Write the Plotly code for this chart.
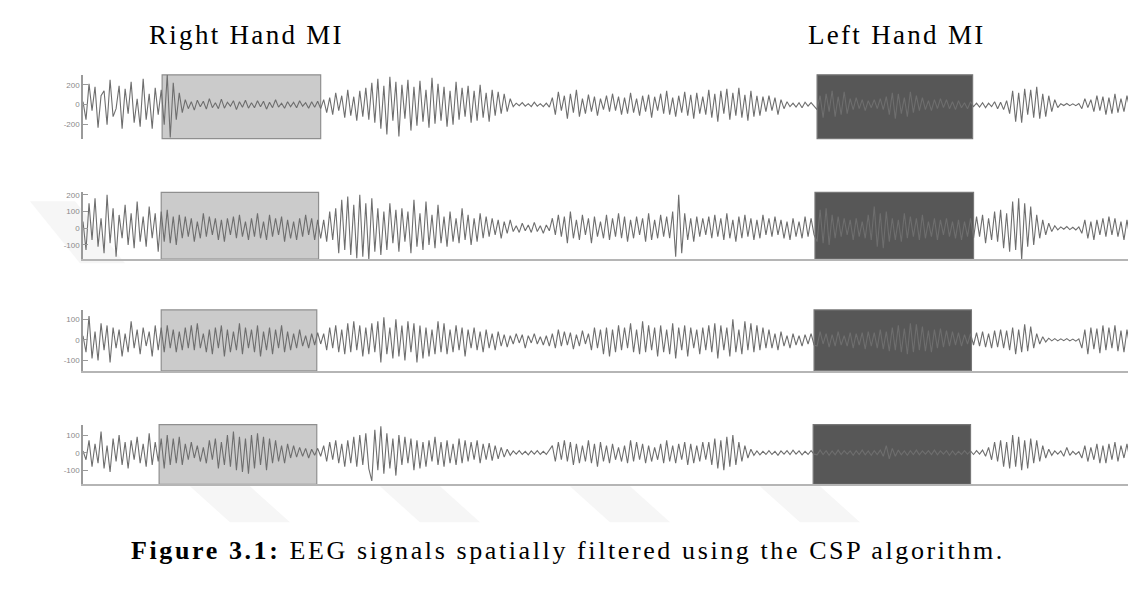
import plotly.graph_objects as go

# ---------------- data ----------------
panel1 = [30, -150, 210, -60, 180, -230, 90, 140, -200, 250, -120, -40, 190, -240, 160, -90, 230, -180, 60, -220, 260, -150, 110, -240, 170, -100, 150,
          -200, 300, -330, 220, -150, 120, -80,
          50, -40, 30, -55, 45, -20, 35, -45, 60, -30, 20, -40, 55, -35, 25, -15, 40, -50, 30, -25, 45, -35, 20, -30, 40, -20, 35, -45, 25, -30, 50, -25, 15, -35, 30, -20, 25, -30, 40, -15, 20, -35, 30, -25, 35, -40,
          50, -80, 70, -100, 120, -60, 90, -130, 150, -110, 80, -160, 140, -120, 170, -150,
          220, -180, 260, -240, 190, -300, 280, -160, 230, -320, 200, -140, 250, -260, 180, -210, 240, -170, 150, -230, 270, -190, 210, -160, 180, -220, 140, -200, 230, -150, 170, -120, 190, -180, 140, -160, 200, -130, 120, -170, 150, -110, 130, -90, 110, -70, 60,
          -20, 15, -10, 20, -15, 10, -20, 25, -15, 10, -20, 15, -25,
          70, -100, 130, -60, 90, -140, 110, -80, 150, -120, 60, -90, 100, -70, 80, -110, 60, -50, 90, -70, 110, -60, 80, -100, 70, -90, 120, -80, 60, -110, 90, -70, 100, -130, 80, -60, 110, -90, 140, -100, 70, -120, 90, -80, 130, -110, 100, -140, 120, -90, 80, -100,
          150, -130, 110, -170, 140, -90, 160, -150, 120, -110, 170, -130, 100, -160, 140, -120, 90, -110, 80, -70,
          90, -60, 70, -100, 50, -40, 30, -20, 15, -25, 20, -30, 25, -15, 20, -10,
          -50, 90, -130, 110, -70, 140, -120, 80, -100, 130, -90, 60, -50, 70, -40, 50, -60, 40, -30, 50, -40, 60, -50, 80, -100, 120, -140, 110, -90, 70, -120, 130, -80, 90, -60, 70, -50, 40, -60, 50, -40, 60, -30, 50, -40, 30, -50, 40, -30, 20, -40, 30,
          -20, 15, -25, 20, -30, 15, -20, 30, -40, 25, -50, 40,
          -90, 140, -170, 120, -180, 160, -100, 150, -130, 180, -140, 110, -120, 90, -70, 50, -30,
          10, -8, 12, -10, 8, -10, 12,
          -40, 60, -30, 50, -70, 90, -60, 80, -100, 70, -90, 110, -80, 60, -70, 90, -50, 70, -40]

panel2 = [40, -130, 150, -70, 180, -110, 60, -150, 200, -90, 120, -170, 80, -60, 140, -100, 90, -120, 160, -80, 70, -110, 130, -60, 90, -140, 100,
          -80, 110, -90, 70, -100, 80, -60,
          70, -50, 60, -80, 40, -60, 90, -50, 70, -40, 60, -70, 50, -80, 60, -40, 70, -60, 80, -50, 40, -70, 60, -50, 90, -60, 40, -70, 80, -50, 60, -40, 70, -80, 50, -60, 40, -70, 60, -50, 80, -40, 60, -70, 50, -60,
          50, -80, 100, -70, 120, -150, 170, -130, 190, -160, 140, -180, 200, -170, 150, -190,
          180, -140, 120, -160, 100, -130, 150, -90, 110, -140, 120, -80, 100, -150, 170, -110, 90, -130, 160, -100, 80, -120, 140, -90, 70, -110, 100, -80, 60, -90, 120, -70, 80, -100, 60, -80, 90, -60, 70, -50, 60, -40, 50, -60, 40, -30, 50,
          -20, 15, -25, 30, -15, 20, -25, 35, -20, 15, -30, 20, -15,
          60, -40, 80, -50, 70, -90, 100, -60, 50, -70, 80, -40, 60, -90, 70, -50, 40, -60, 80, -70, 60, -50, 90, -60, 70, -80, 50, -60, 70, -40, 60, -80, 90, -70, 50, -60, 80, -50, 70, -60, 100, -170, 200, -150, 90, -70, 60, -80, 70, -50, 60, -40,
          70, -60, 80, -50, 60, -70, 90, -60, 50, -80, 70, -60, 80, -50, 60, -70, 50, -60, 80, -40,
          60, -50, 70, -40, 50, -60, 40, -70, 60, -50, 40, -60, 70, -50, 60, -40,
          -80, 110, -90, 120, -100, 80, -60, 70, -50, 60, -40, 50, -70, 60, -50, 40, -60, 80, -70, 130, -110, 90, -120, 100, -80, 60, -70, 50, -80, 90, -60, 70, -50, 60, -70, 80, -60, 40, -50, 60, -70, 50, -40, 60, -50, 40, -60, 50, -70, 40, -50, 60,
          -60, 70, -50, 80, -90, 60, -70, 100, -80, 110, -120, 90,
          -140, 160, -130, 180, -190, 150, -110, 130, -100, 80, -60, 50, -40, 30, -20, 15, -10,
          8, -6, 10, -8, 6, -10, 8,
          -30, 50, -60, 40, -70, 50, -40, 60, -50, 70, -40, 60, -50, 40, -70, 50, -60, 40, -50]

panel3 = [20, -60, 115, -90, 40, -100, 80, -50, 70, -110, 60, -40, 50, -80, 30, -60, 90, -40, 50, -70, 60, -30, 40, -80, 70, -50, 60,
          -60, 70, -40, 50, -60, 40, -50,
          60, -40, 70, -50, 80, -40, 30, -60, 50, -70, 60, -40, 70, -80, 50, -60, 40, -50, 80, -70, 60, -40, 50, -60, 70, -80, 40, -50, 60, -70, 50, -40, 70, -60, 40, -50, 30, -40, 50, -30, 20, -40, 30, -25, 35, -20,
          30, -50, 60, -40, 70, -60, 50, -70, 80, -60, 90, -50, 70, -80, 60, -70,
          80, -60, 90, -110, 110, -70, 60, -90, 100, -80, 70, -100, 90, -60, 80, -110, 70, -90, 60, -80, 50, -70, 90, -60, 80, -70, 50, -60, 70, -50, 60, -80, 50, -40, 60, -50, 40, -60, 50, -40, 30, -50, 40, -30, 25, -35, 20,
          -20, 30, -15, 25, -40, 20, -15, 30, -20, 15, -25, 20, -30,
          30, -40, 50, -30, 40, -25, 35, -45, 25, -30, 45, -20, 30, -50, 60, -40, 50, -70, 60, -80, 50, -60, 70, -50, 60, -40, 80, -60, 50, -70, 90, -60, 70, -50, 60, -80, 70, -60, 50, -70, 80, -90, 60, -50, 70, -80, 60, -40, 50, -70, 60, -50,
          70, -60, 80, -90, 70, -50, 60, -80, 100, -60, 50, -70, 90, -50, 80, -60, 70, -50, 60, -40,
          50, -40, 30, -50, 40, -30, 20, -40, 30, -25, 20, -30, 25, -20, 30, -25,
          -30, 40, -20, 30, -35, 25, -30, 40, -25, 20, -30, 35, -40, 30, -25, 35, -45, 40, -30, 35, -40, 50, -45, 40, -55, 60, -50, 70, -60, 55, -70, 80, -60, 75, -50, 65, -55, 45, -60, 50, -40, 55, -35, 45, -30, 40, -25, 35, -30, 25, -20, 30,
          -25, 35, -30, 40, -35, 30, -40, 45, -35, 50, -40, 45,
          -50, 60, -70, 50, -60, 75, -55, 65, -40, 30, -20, 15, -10, 8, -5, 6, -5,
          5, -4, 6, -5, 4, -6, 5,
          -40, 50, -70, 60, -45, 55, -65, 70, -50, 60, -40, 70, -55, 45, -60, 50, -40, 55, -35]

panel4 = [10, -40, 70, -80, 50, -60, 120, -90, 40, -110, 80, -50, 100, -70, 60, -90, 70, -40, 90, -60, 50, -80, 110, -70, 60, -50, 80,
          -90, 100, -70, 80, -60, 90, -70,
          50, -40, 60, -30, 40, -50, 30, -60, 70, -40, 80, -90, 60, -70, 100, -80, 120, -100, 90, -110, 80, -120, 100, -90, 110, -70, 90, -100, 80, -60, 70, -50, 40, -60, 50, -30, 40, -25, 30, -20, 25, -30, 20, -15, 25, -20,
          40, -50, 60, -40, 70, -60, 50, -80, 70, -60, 90, -80, 100, -70, 110, -90,
          -160, 130, -100, 150, -120, 110, -90, 80, -130, 100, -70, 90, -60, 80, -100, 70, -90, 60, -80, 70, -50, 90, -70, 60, -80, 70, -60, 50, -70, 80, -60, 70, -50, 60, -40, 70, -60, 50, -40, 55, -45, 40, -35, 30, -25, 20, -15,
          10, -8, 12, -10, 8, -12, 10, -8, 12, -10, 8, -10, 12,
          40, -50, 60, -40, 70, -50, 60, -70, 50, -60, 40, -50, 70, -60, 50, -80, 60, -50, 40, -60, 50, -40, 30, -50, 40, -60, 70, -50, 60, -40, 50, -60, 40, -50, 30, -40, 50, -60, 70, -50, 40, -60, 50, -40, 60, -70, 50, -60, 40, -50, 60, -40,
          60, -70, 80, -90, 70, -100, 90, -80, 100, -70, 60, -50, 40, -30, 20, -15, 10, -12, 8, -10,
          12, -10, 8, -15, 10, -8, 12, -10, 15, -8, 10, -12, 8, -10, 12, -8,
          -12, 15, -10, 12, -15, 10, -12, 15, -10, 12, -8, 10, -15, 12, -10, 15, -12, 10, -15, 12, -10, 15, -20, 40, -35, 25, -20, 15, -12, 10, -15, 12, -10, 15, -12, 10, -8, 12, -10, 15, -12, 10, -8, 12, -15, 10, -12, 8, -10, 12, -8, 10,
          -10, 12, -8, 15, -20, 30, -40, 60, -50, 70, -80, 60,
          -90, 100, -80, 90, -100, 70, -90, 80, -60, 70, -50, 40, -30, 20, -15, 10, -8,
          10, -20, 30, -15, 8, -10, 6,
          -30, 40, -50, 30, -40, 50, -60, 40, -60, 50, -40, 60, -50, 40, -30, 50, -40, 30, -35]

signals = [panel1, panel2, panel3, panel4]

# y tick values / labels per panel
tick_vals = [[200, 0, -200], [200, 100, 0, -100], [100, 0, -100], [100, 0, -100]]
tick_text = [["200", "0", "-200"], ["200", "100", "0", "-100"], ["100", "0", "-100"], ["100", "0", "-100"]]
y_ranges = [[-340, 300], [-185, 215], [-150, 145], [-180, 160]]

# MI windows (in samples)
right_mi = [[26.3, 79.0], [26.0, 78.3], [26.0, 77.7], [25.3, 77.7]]
left_mi = [[244.0, 295.7], [243.3, 296.0], [243.0, 295.3], [242.7, 295.0]]

titles = ["Right Hand MI", "Left Hand MI"]
caption_bold = "Figure 3.1:"
caption_text = " EEG signals spatially filtered using the CSP algorithm."

# ---------------- layout ----------------
OFF = 8                      # page body margin
W, H = 1136 - OFF, 595 - OFF
N_SPAN = 350


def px(x):
    return (x - OFF) / W


def py(y):
    return 1 - (y - OFF) / H


px_dom = [(73, 137), (191, 258), (309, 370), (424, 484)]

fig = go.Figure()
layout = dict(
    width=W, height=H,
    margin=dict(l=0, r=0, t=0, b=0),
    paper_bgcolor="white", plot_bgcolor="rgba(0,0,0,0)",
    showlegend=False,
)
shapes = []

# faint watermark stripes
wm = [
    [(30, 200), (75, 200), (125, 262), (80, 262)],
    [(190, 486), (250, 486), (290, 522), (230, 522)],
    [(380, 486), (440, 486), (480, 522), (420, 522)],
    [(570, 486), (630, 486), (670, 522), (610, 522)],
    [(760, 486), (820, 486), (860, 522), (800, 522)],
]
for poly in wm:
    path = "M " + " L ".join(f"{px(x):.4f},{py(y):.4f}" for x, y in poly) + " Z"
    shapes.append(dict(type="path", xref="paper", yref="paper", path=path,
                       fillcolor="#f6f6f6", line=dict(width=0), layer="below"))

for i, sig in enumerate(signals):
    k = "" if i == 0 else str(i + 1)
    xs = list(range(len(sig)))
    fig.add_trace(go.Scatter(x=xs, y=sig, mode="lines",
                             line=dict(color="#6e6e6e", width=1.1),
                             xaxis="x" + k, yaxis="y" + k, hoverinfo="skip"))
    layout["xaxis" + k] = dict(domain=[px(83), 1], range=[0, N_SPAN], anchor="y" + k,
                               showgrid=False, zeroline=False, showticklabels=False,
                               ticks="", showline=(i > 0), linecolor="#b5b5b5", linewidth=2)
    layout["yaxis" + k] = dict(domain=[py(px_dom[i][1]), py(px_dom[i][0])], range=y_ranges[i],
                               anchor="x" + k, showgrid=False, zeroline=False, showline=True,
                               linecolor="#9a9a9a", linewidth=1.5,
                               ticks="inside", ticklen=5, tickcolor="#9a9a9a",
                               tickvals=tick_vals[i], ticktext=tick_text[i],
                               tickfont=dict(family="Arial", size=8, color="#8a8a8a"))
    xr = "x" + k
    yr = "y" + k + " domain"
    a, b = right_mi[i]
    shapes.append(dict(type="rect", xref=xr, yref=yr, x0=a, x1=b, y0=0, y1=1,
                       fillcolor="#cbcbcb", line=dict(color="#8f8f8f", width=1.2), layer="below"))
    a, b = left_mi[i]
    shapes.append(dict(type="rect", xref=xr, yref=yr, x0=a, x1=b, y0=0, y1=1,
                       fillcolor="#575757", line=dict(color="#777777", width=1.2), layer="below"))

layout["shapes"] = shapes
title_font = dict(family="Liberation Serif", size=27, color="black")
cap_font = dict(family="Liberation Serif", size=26, color="black")


def spaced(t, ls):
    return f'<span style="letter-spacing:{ls}px">{t}</span>'


layout["annotations"] = [
    dict(text=spaced(titles[0], 2.3), x=px(246), y=py(33), xref="paper", yref="paper",
         xanchor="center", yanchor="middle", showarrow=False, font=title_font),
    dict(text=spaced(titles[1], 2.3), x=px(897), y=py(33), xref="paper", yref="paper",
         xanchor="center", yanchor="middle", showarrow=False, font=title_font),
    dict(text=spaced(f"<b>{caption_bold}</b>{caption_text}", 2.6), x=px(568), y=py(550),
         xref="paper", yref="paper", xanchor="center", yanchor="middle",
         showarrow=False, font=cap_font),
]
fig.update_layout(**layout)
fig.write_html("out.html")
